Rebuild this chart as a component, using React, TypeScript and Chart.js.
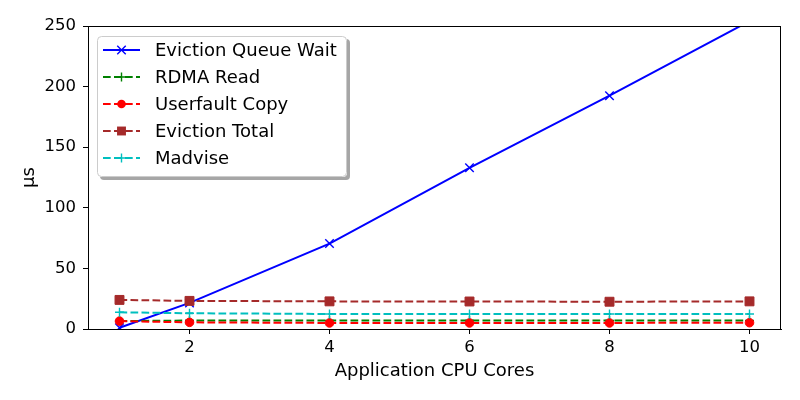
import React, { useEffect, useRef } from "react";
import { Chart, registerables } from "chart.js";

Chart.register(...registerables);

const cores = [1, 2, 4, 6, 8, 10];
const xTicks = [2, 4, 6, 8, 10];
const evictionQueueWait = [1, 21.5, 70.5, 133, 192.5, 254];
const rdmaRead = [6.5, 7, 7, 7, 7, 7];
const userfaultCopy = [6.5, 5.5, 5, 5, 5, 5.2];
const evictionTotal = [24, 23.2, 22.8, 22.7, 22.5, 22.8];
const madvise = [13.8, 13, 12.4, 12.4, 12.4, 12.4];
const seriesLabels = ["Eviction Queue Wait", "RDMA Read", "Userfault Copy", "Eviction Total", "Madvise"];
const xTitle = "Application CPU Cores";
const yTitle = "μs";

const FONT = "'DejaVu Sans', sans-serif";

function drawMarker(ctx: CanvasRenderingContext2D, style: string, x: number, y: number, r: number, color: string) {
  ctx.save();
  ctx.setLineDash([]);
  ctx.strokeStyle = color;
  ctx.fillStyle = color;
  ctx.lineWidth = 1.4;
  ctx.beginPath();
  if (style === "crossRot") {
    const o = r * Math.SQRT1_2;
    ctx.moveTo(x - o, y - o); ctx.lineTo(x + o, y + o);
    ctx.moveTo(x - o, y + o); ctx.lineTo(x + o, y - o);
    ctx.stroke();
  } else if (style === "cross") {
    ctx.moveTo(x - r, y); ctx.lineTo(x + r, y);
    ctx.moveTo(x, y - r); ctx.lineTo(x, y + r);
    ctx.stroke();
  } else if (style === "circle") {
    ctx.arc(x, y, r, 0, Math.PI * 2);
    ctx.fill();
  } else if (style === "rect") {
    const s = r * Math.SQRT1_2;
    ctx.rect(x - s, y - s, 2 * s, 2 * s);
    ctx.fill();
  }
  ctx.restore();
}

const framePlugin = {
  id: "frame",
  afterDatasetsDraw(chart: any) {
    const { ctx, chartArea } = chart;
    ctx.save();
    ctx.strokeStyle = "#000";
    ctx.lineWidth = 1;
    ctx.setLineDash([]);
    ctx.strokeRect(Math.round(chartArea.left) + 0.5, Math.round(chartArea.top) + 0.5,
      Math.round(chartArea.right - chartArea.left) - 1, Math.round(chartArea.bottom - chartArea.top));
    ctx.restore();
  },
};

function roundRect(ctx: CanvasRenderingContext2D, x: number, y: number, w: number, h: number, r: number) {
  ctx.beginPath();
  ctx.moveTo(x + r, y);
  ctx.lineTo(x + w - r, y);
  ctx.arcTo(x + w, y, x + w, y + r, r);
  ctx.lineTo(x + w, y + h - r);
  ctx.arcTo(x + w, y + h, x + w - r, y + h, r);
  ctx.lineTo(x + r, y + h);
  ctx.arcTo(x, y + h, x, y + h - r, r);
  ctx.lineTo(x, y + r);
  ctx.arcTo(x, y, x + r, y, r);
  ctx.closePath();
}

const legendPlugin = {
  id: "mplLegend",
  afterDraw(chart: any) {
    const { ctx, chartArea } = chart;
    const x0 = chartArea.left + 9;
    const y0 = chartArea.top + 10;
    const w = 250;
    const h = 141;
    ctx.save();
    ctx.fillStyle = "rgba(77,77,77,0.5)";
    roundRect(ctx, x0 + 3, y0 + 3, w, h, 4);
    ctx.fill();
    ctx.fillStyle = "#ffffff";
    roundRect(ctx, x0, y0, w, h, 4);
    ctx.fill();
    ctx.strokeStyle = "#cccccc";
    ctx.lineWidth = 1;
    roundRect(ctx, x0 + 0.5, y0 + 0.5, w - 1, h - 1, 4);
    ctx.stroke();
    const rowStart = y0 + 14;
    const rowGap = 27;
    chart.data.datasets.forEach((ds: any, i: number) => {
      const cy = rowStart + i * rowGap;
      const lx0 = x0 + 6;
      const lx1 = x0 + 43;
      ctx.save();
      ctx.strokeStyle = ds.borderColor;
      ctx.lineWidth = ds.borderWidth;
      ctx.setLineDash(ds.borderDash || []);
      ctx.beginPath();
      ctx.moveTo(lx0, cy);
      ctx.lineTo(lx1, cy);
      ctx.stroke();
      ctx.restore();
      drawMarker(ctx, ds.pointStyle, (lx0 + lx1) / 2, cy, ds.pointRadius, ds.borderColor);
      ctx.fillStyle = "#000";
      ctx.font = `18px ${FONT}`;
      ctx.textBaseline = "middle";
      ctx.textAlign = "left";
      ctx.fillText(ds.label, x0 + 58, cy + 1);
    });
    ctx.restore();
  },
};

export default function App() {
  const ref = useRef<HTMLCanvasElement>(null);
  useEffect(() => {
    document.body.style.margin = "0";
    const canvas = ref.current;
    if (!canvas) return;
    const mk = (vals: number[]) => cores.map((c, i) => ({ x: c, y: vals[i] }));
    const dash = [7.7, 3.3];
    const chart = new Chart(canvas, {
      type: "line",
      data: {
        datasets: [
          { label: seriesLabels[0], data: mk(evictionQueueWait), borderColor: "#0000ff", backgroundColor: "#0000ff", borderWidth: 2, borderDash: [], pointStyle: "crossRot", pointRadius: 6, pointBorderWidth: 1.4, order: 5, clip: 0 },
          { label: seriesLabels[1], data: mk(rdmaRead), borderColor: "#008000", backgroundColor: "#008000", borderWidth: 2, borderDash: dash, pointStyle: "cross", pointRadius: 4.5, pointBorderWidth: 1.4, order: 4, clip: 0 },
          { label: seriesLabels[2], data: mk(userfaultCopy), borderColor: "#ff0000", backgroundColor: "#ff0000", borderWidth: 2, borderDash: dash, pointStyle: "circle", pointRadius: 4.3, pointBorderWidth: 1, order: 3, clip: 0 },
          { label: seriesLabels[3], data: mk(evictionTotal), borderColor: "#a52a2a", backgroundColor: "#a52a2a", borderWidth: 2, borderDash: dash, pointStyle: "rect", pointRadius: 6.3, pointBorderWidth: 1, order: 2, clip: 0 },
          { label: seriesLabels[4], data: mk(madvise), borderColor: "#00bfbf", backgroundColor: "#00bfbf", borderWidth: 2, borderDash: dash, pointStyle: "cross", pointRadius: 4.5, pointBorderWidth: 1.4, order: 1, clip: 0 },
        ] as any,
      },
      options: {
        animation: false,
        responsive: false,
        devicePixelRatio: 1,
        layout: { padding: { left: 0, right: 19, top: 26, bottom: 0 } },
        elements: { line: { tension: 0 } },
        plugins: { legend: { display: false }, tooltip: { enabled: false } },
        scales: {
          x: {
            type: "linear",
            min: 0.55,
            max: 10.45,
            afterBuildTicks: (s: any) => { s.ticks = xTicks.map((v) => ({ value: v })); },
            afterFit: (s: any) => { s.height = 71; },
            ticks: { color: "#000", font: { family: FONT, size: 16.5 }, padding: 4, maxRotation: 0 },
            grid: { drawOnChartArea: false, drawTicks: true, tickLength: 5, color: "#000" },
            border: { display: true, color: "#000" },
            title: { display: true, text: xTitle, color: "#000", font: { family: FONT, size: 18 }, padding: { top: 0, bottom: 18 } },
          },
          y: {
            type: "linear",
            min: 0,
            max: 250,
            ticks: { stepSize: 50, color: "#000", font: { family: FONT, size: 16.5 }, padding: 7 },
            afterFit: (s: any) => { s.width = 88; },
            grid: { drawOnChartArea: false, drawTicks: true, tickLength: 5, color: "#000" },
            border: { display: true, color: "#000" },
            title: { display: true, text: yTitle, color: "#000", font: { family: FONT, size: 18 }, padding: { top: 19, bottom: 0 } },
          },
        },
      } as any,
      plugins: [framePlugin, legendPlugin],
    });
    return () => chart.destroy();
  }, []);
  return (
    <div style={{ width: 800, height: 400 }}>
      <canvas ref={ref} width={800} height={400} style={{ display: "block" }} />
    </div>
  );
}
